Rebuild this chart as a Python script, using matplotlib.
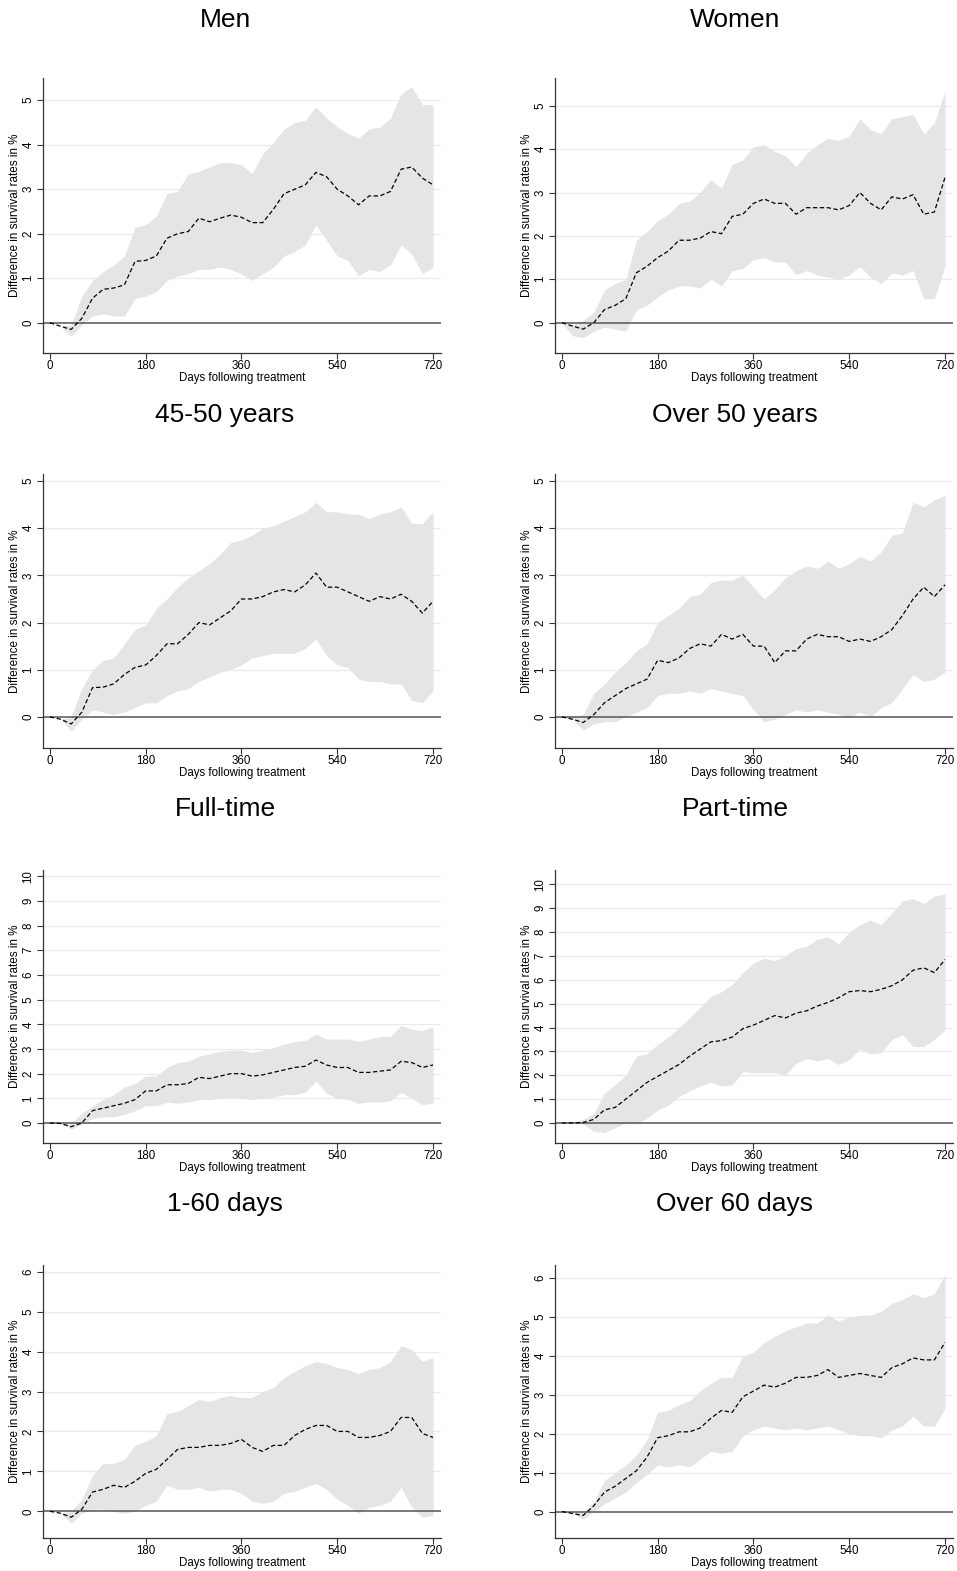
import numpy as np
import matplotlib
matplotlib.use("Agg")
import matplotlib.pyplot as plt

plt.rcParams['font.family'] = ['Liberation Sans', 'DejaVu Sans']

days = list(range(0, 721, 20))

titles = ["Men", "Women", "45-50 years", "Over 50 years",
          "Full-time", "Part-time", "1-60 days", "Over 60 days"]

# point estimates (percentage points)
men_mid = [0, -0.08, -0.15, 0.1, 0.55, 0.75, 0.78, 0.85, 1.38, 1.4, 1.5, 1.9, 2.0, 2.05, 2.35, 2.27,
           2.35, 2.42, 2.37, 2.25, 2.25, 2.55, 2.9, 3.0, 3.1, 3.38, 3.28, 3.0, 2.85, 2.65, 2.85, 2.85,
           2.95, 3.45, 3.5, 3.25, 3.1]
men_lo = [0, -0.08, -0.3, -0.05, 0.15, 0.2, 0.15, 0.15, 0.55, 0.6, 0.7, 0.95, 1.05, 1.1, 1.2, 1.2,
          1.25, 1.2, 1.1, 0.95, 1.1, 1.25, 1.5, 1.6, 1.75, 2.2, 1.85, 1.5, 1.4, 1.05, 1.2, 1.15,
          1.3, 1.75, 1.55, 1.1, 1.25]
men_hi = [0, -0.08, -0.05, 0.6, 0.95, 1.15, 1.3, 1.5, 2.15, 2.2, 2.4, 2.9, 2.95, 3.35, 3.4, 3.5,
          3.6, 3.6, 3.55, 3.35, 3.8, 4.05, 4.35, 4.5, 4.55, 4.85, 4.6, 4.4, 4.25, 4.15, 4.35, 4.4,
          4.6, 5.15, 5.3, 4.9, 4.9]

women_mid = [0, -0.08, -0.15, 0.0, 0.3, 0.4, 0.55, 1.15, 1.3, 1.5, 1.65, 1.9, 1.9, 1.95, 2.1, 2.05,
             2.45, 2.5, 2.75, 2.85, 2.75, 2.75, 2.5, 2.65, 2.65, 2.65, 2.6, 2.7, 3.0, 2.75, 2.6, 2.9,
             2.85, 2.95, 2.5, 2.55, 3.35]
women_lo = [0, -0.3, -0.35, -0.2, -0.1, -0.15, -0.2, 0.3, 0.4, 0.6, 0.75, 0.85, 0.85, 0.8, 1.0, 0.85,
            1.2, 1.25, 1.45, 1.5, 1.4, 1.4, 1.1, 1.2, 1.1, 1.05, 1.0, 1.1, 1.3, 1.05, 0.9, 1.15,
            1.1, 1.2, 0.55, 0.55, 1.3]
women_hi = [0, -0.05, 0.05, 0.25, 0.75, 0.9, 1.0, 1.9, 2.1, 2.35, 2.5, 2.75, 2.8, 3.0, 3.3, 3.1,
            3.65, 3.75, 4.05, 4.1, 3.95, 3.85, 3.6, 3.9, 4.1, 4.25, 4.2, 4.3, 4.7, 4.45, 4.35, 4.7,
            4.75, 4.8, 4.35, 4.6, 5.35]

age45_mid = [0, -0.05, -0.15, 0.1, 0.62, 0.63, 0.7, 0.9, 1.05, 1.1, 1.3, 1.55, 1.55, 1.75, 2.0, 1.95,
             2.1, 2.25, 2.5, 2.5, 2.55, 2.65, 2.7, 2.65, 2.8, 3.05, 2.75, 2.75, 2.65, 2.55, 2.45, 2.55,
             2.5, 2.6, 2.45, 2.2, 2.45]
age45_lo = [0, -0.05, -0.3, -0.05, 0.15, 0.1, 0.05, 0.1, 0.2, 0.3, 0.3, 0.45, 0.55, 0.6, 0.75, 0.85,
            0.95, 1.0, 1.1, 1.25, 1.3, 1.35, 1.35, 1.35, 1.45, 1.65, 1.3, 1.1, 1.05, 0.8, 0.75, 0.75,
            0.7, 0.7, 0.35, 0.3, 0.55]
age45_hi = [0, -0.05, 0.0, 0.6, 1.0, 1.2, 1.25, 1.55, 1.85, 1.95, 2.3, 2.5, 2.75, 2.95, 3.1, 3.25,
            3.45, 3.7, 3.75, 3.85, 4.0, 4.05, 4.15, 4.25, 4.35, 4.55, 4.35, 4.35, 4.3, 4.3, 4.2, 4.3,
            4.35, 4.45, 4.1, 4.1, 4.35]

age50_mid = [0, -0.05, -0.12, 0.05, 0.3, 0.45, 0.6, 0.7, 0.8, 1.2, 1.15, 1.25, 1.45, 1.55, 1.5, 1.75,
             1.65, 1.75, 1.5, 1.5, 1.15, 1.4, 1.4, 1.65, 1.75, 1.7, 1.7, 1.6, 1.65, 1.6, 1.7, 1.85,
             2.15, 2.5, 2.75, 2.55, 2.8]
age50_lo = [0, -0.05, -0.28, -0.15, -0.1, -0.1, 0.0, 0.1, 0.2, 0.45, 0.5, 0.5, 0.55, 0.5, 0.6, 0.55,
            0.5, 0.45, 0.15, -0.1, -0.05, 0.05, 0.15, 0.1, 0.15, 0.1, 0.05, 0.0, 0.1, 0.0, 0.2, 0.3,
            0.6, 0.9, 0.75, 0.8, 0.95]
age50_hi = [0, 0.0, 0.05, 0.5, 0.7, 0.95, 1.15, 1.4, 1.55, 2.0, 2.15, 2.3, 2.55, 2.6, 2.85, 2.9,
            2.9, 3.0, 2.75, 2.5, 2.7, 2.95, 3.1, 3.2, 3.15, 3.3, 3.15, 3.25, 3.4, 3.3, 3.5, 3.85,
            3.9, 4.55, 4.45, 4.6, 4.7]

full_mid = [0, -0.02, -0.15, 0.0, 0.5, 0.6, 0.7, 0.8, 0.95, 1.3, 1.3, 1.55, 1.55, 1.6, 1.85, 1.8,
            1.9, 2.0, 2.0, 1.9, 1.95, 2.05, 2.15, 2.25, 2.3, 2.55, 2.35, 2.25, 2.25, 2.05, 2.05, 2.1,
            2.15, 2.5, 2.45, 2.25, 2.35]
full_lo = [0, -0.02, -0.25, -0.05, 0.2, 0.25, 0.25, 0.35, 0.5, 0.7, 0.7, 0.85, 0.8, 0.85, 0.95, 0.95,
           1.0, 1.05, 1.0, 0.95, 1.0, 1.05, 1.15, 1.15, 1.25, 1.7, 1.2, 1.0, 0.95, 0.8, 0.85, 0.85,
           0.9, 1.25, 1.0, 0.75, 0.8]
full_hi = [0, -0.02, 0.0, 0.4, 0.7, 0.95, 1.15, 1.45, 1.6, 1.9, 1.9, 2.25, 2.45, 2.5, 2.7, 2.8,
           2.9, 2.95, 2.95, 2.85, 2.95, 3.05, 3.2, 3.3, 3.35, 3.6, 3.4, 3.4, 3.4, 3.3, 3.4, 3.5,
           3.5, 3.95, 3.8, 3.75, 3.9]

part_mid = [0, 0, 0.02, 0.15, 0.55, 0.65, 1.0, 1.35, 1.7, 1.95, 2.2, 2.45, 2.8, 3.1, 3.4, 3.45,
            3.6, 3.95, 4.1, 4.3, 4.5, 4.4, 4.6, 4.7, 4.9, 5.05, 5.25, 5.5, 5.55, 5.5, 5.6, 5.75,
            6.0, 6.4, 6.5, 6.3, 6.85]
part_lo = [0, 0, -0.05, -0.35, -0.4, -0.2, 0.0, -0.05, 0.2, 0.55, 0.75, 1.1, 1.35, 1.55, 1.7, 1.55,
           1.6, 2.15, 2.1, 2.1, 2.1, 2.0, 2.5, 2.7, 2.6, 2.7, 2.45, 2.65, 3.1, 2.9, 2.95, 3.5,
           3.7, 3.2, 3.2, 3.5, 3.9]
part_hi = [0, 0, 0.15, 0.4, 1.25, 1.6, 2.0, 2.8, 2.9, 3.3, 3.6, 4.0, 4.4, 4.85, 5.3, 5.5,
           5.8, 6.3, 6.7, 6.9, 6.8, 7.0, 7.3, 7.4, 7.7, 7.8, 7.5, 8.0, 8.3, 8.5, 8.3, 8.8,
           9.3, 9.4, 9.2, 9.5, 9.6]

short_mid = [0, -0.05, -0.15, 0.05, 0.48, 0.55, 0.65, 0.6, 0.75, 0.95, 1.05, 1.3, 1.55, 1.6, 1.6, 1.65,
             1.65, 1.7, 1.8, 1.6, 1.5, 1.65, 1.65, 1.9, 2.05, 2.15, 2.15, 2.0, 2.0, 1.85, 1.85, 1.9,
             2.0, 2.35, 2.35, 1.95, 1.85]
short_lo = [0, -0.05, -0.3, -0.05, 0.05, 0.05, 0.0, -0.05, 0.0, 0.15, 0.25, 0.65, 0.55, 0.55, 0.6, 0.5,
            0.55, 0.55, 0.45, 0.25, 0.2, 0.25, 0.45, 0.5, 0.6, 0.7, 0.55, 0.3, 0.15, -0.05, 0.1, 0.15,
            0.25, 0.6, 0.1, -0.15, -0.1]
short_hi = [0, -0.05, 0.0, 0.3, 0.9, 1.2, 1.2, 1.3, 1.65, 1.75, 1.9, 2.45, 2.5, 2.65, 2.8, 2.75,
            2.85, 2.9, 2.85, 2.85, 3.0, 3.1, 3.35, 3.5, 3.65, 3.75, 3.7, 3.6, 3.55, 3.45, 3.55, 3.6,
            3.75, 4.15, 4.05, 3.75, 3.85]

long_mid = [0, -0.05, -0.1, 0.15, 0.5, 0.65, 0.85, 1.05, 1.4, 1.9, 1.95, 2.05, 2.05, 2.15, 2.4, 2.6,
            2.55, 2.95, 3.1, 3.25, 3.2, 3.3, 3.45, 3.45, 3.5, 3.65, 3.45, 3.5, 3.55, 3.5, 3.45, 3.7,
            3.8, 3.95, 3.9, 3.9, 4.35]
long_lo = [0, -0.05, -0.2, 0.0, 0.2, 0.35, 0.5, 0.75, 0.95, 1.2, 1.15, 1.2, 1.15, 1.35, 1.55, 1.5,
           1.55, 1.95, 2.1, 2.2, 2.15, 2.1, 2.15, 2.1, 2.15, 2.2, 2.1, 2.0, 1.95, 1.95, 1.9, 2.1,
           2.2, 2.45, 2.2, 2.2, 2.65]
long_hi = [0, -0.05, 0.0, 0.25, 0.8, 1.0, 1.2, 1.45, 1.85, 2.55, 2.6, 2.75, 2.85, 3.1, 3.3, 3.45,
           3.45, 4.0, 4.1, 4.35, 4.5, 4.65, 4.75, 4.85, 4.85, 5.05, 4.9, 5.0, 5.05, 5.05, 5.15, 5.35,
           5.45, 5.6, 5.5, 5.6, 6.1]

mids = [men_mid, women_mid, age45_mid, age50_mid, full_mid, part_mid, short_mid, long_mid]
los = [men_lo, women_lo, age45_lo, age50_lo, full_lo, part_lo, short_lo, long_lo]
his = [men_hi, women_hi, age45_hi, age50_hi, full_hi, part_hi, short_hi, long_hi]

ylims = [(-0.68, 5.5), (-0.7, 5.64), (-0.66, 5.15), (-0.66, 5.15),
         (-0.81, 10.25), (-0.84, 10.6), (-0.67, 6.17), (-0.68, 6.34)]
ytop = [5, 5, 5, 5, 10, 10, 6, 6]

W, H = 957, 1571
fig = plt.figure(figsize=(W / 100, H / 100), dpi=100)

col_x = [43, 555]
row_top = [78, 474, 870, 1265]
row_bot = [353, 748, 1143, 1538]
title_y = [20, 415, 809, 1204]
title_x = [225, 735]

for i in range(8):
    r, c = divmod(i, 2)
    ax = fig.add_axes([col_x[c] / W, 1 - row_bot[r] / H, 398 / W, (row_bot[r] - row_top[r]) / H])

    ax.fill_between(days, los[i], his[i], color='#e5e5e5', lw=0, zorder=1)
    ax.axhline(0, color='#555555', lw=1.1, zorder=2)
    ax.plot(days, mids[i], color='black', lw=0.9, dashes=(3.5, 2), zorder=3)

    ax.set_xlim(-13, 735)
    ax.set_ylim(*ylims[i])
    ax.set_xticks([0, 180, 360, 540, 720])
    ax.set_yticks(range(0, ytop[i] + 1))
    for t in range(1, ytop[i] + 1):
        ax.axhline(t, color='#eaeaea', lw=0.9, zorder=0)

    for s in ['top', 'right']:
        ax.spines[s].set_visible(False)
    for s in ['left', 'bottom']:
        ax.spines[s].set_color('#333333')
        ax.spines[s].set_linewidth(0.9)

    ax.tick_params(axis='both', direction='out', length=4, width=0.8, colors='#333333',
                   labelsize=8.3, labelcolor='black')
    ax.tick_params(axis='x', pad=1)
    ax.tick_params(axis='y', pad=2)
    for lab in ax.get_yticklabels():
        lab.set_rotation(90)
        lab.set_va('center')
    ax.set_xlabel("Days following treatment", fontsize=8.3, labelpad=0)
    ax.set_ylabel("Difference in survival rates in %", fontsize=8.4, labelpad=1)

    fig.text(title_x[c] / W, 1 - title_y[i // 2] / H, titles[i], fontsize=19,
             ha='center', va='center')

fig.savefig("out.png", dpi=100)
